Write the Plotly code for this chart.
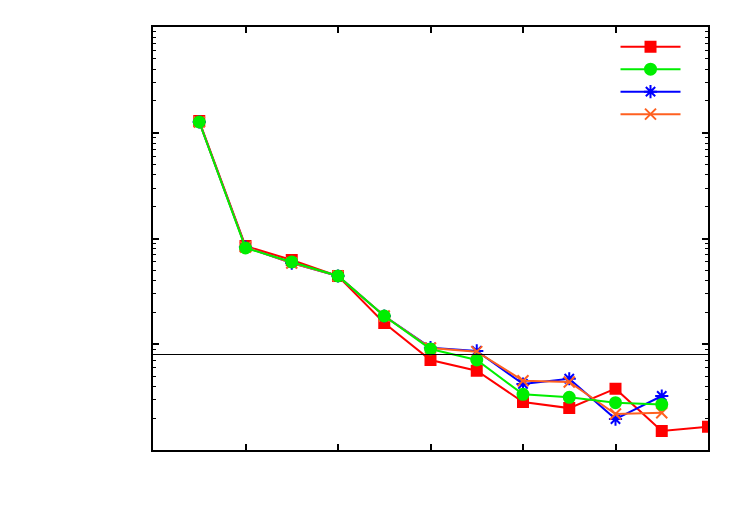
import plotly.graph_objects as go

x_long = [0.5, 1.0, 1.5, 2.0, 2.5, 3.0, 3.5, 4.0, 4.5, 5.0, 5.5, 6.0]
x_short = [0.5, 1.0, 1.5, 2.0, 2.5, 3.0, 3.5, 4.0, 4.5, 5.0, 5.5]

red_vals = [0.129, 0.00849, 0.00626, 0.00442, 0.00159, 0.00071, 0.000562,
            0.000284, 0.000249, 0.00038, 0.000151, 0.000166]
green_vals = [0.1264, 0.00813, 0.0060, 0.00442, 0.00185, 0.000902, 0.00071,
              0.000336, 0.000315, 0.00028, 0.00027]
blue_vals = [0.1264, 0.00831, 0.00586, 0.00442, 0.00185, 0.000929, 0.000864,
             0.000421, 0.000472, 0.000196, 0.000324]
orange_vals = [0.1264, 0.00831, 0.00586, 0.00442, 0.00185, 0.000922, 0.000851,
               0.000452, 0.00044, 0.000219, 0.000225]

ref_level = 0.0008

series = [
    dict(x=x_long, y=red_vals, color="#ff0000", symbol="square", size=10, rank=1),
    dict(x=x_short, y=blue_vals, color="#0000ff", symbol="asterisk-open", size=11, rank=3),
    dict(x=x_short, y=orange_vals, color="#ff6020", symbol="x-thin-open", size=11, rank=4),
    dict(x=x_short, y=green_vals, color="#00ee00", symbol="circle", size=11, rank=2),
]

fig = go.Figure()
for s in series:
    fig.add_trace(go.Scatter(
        x=s["x"], y=s["y"], mode="lines+markers", name=" ",
        line=dict(color=s["color"], width=2),
        marker=dict(symbol=s["symbol"], size=s["size"], color=s["color"],
                    line=dict(color=s["color"], width=2)),
        legendrank=s["rank"],
    ))

fig.add_shape(type="line", xref="paper", x0=0, x1=1, yref="y", y0=ref_level, y1=ref_level,
              line=dict(color="black", width=1))

fig.update_layout(
    width=750, height=525,
    margin=dict(l=153, r=42, t=27, b=75),
    paper_bgcolor="white", plot_bgcolor="white",
    showlegend=True,
    legend=dict(x=0.9775, y=0.992, xanchor="right", yanchor="top",
                bgcolor="rgba(0,0,0,0)", itemwidth=60,
                font=dict(size=15, family="Liberation Sans"), tracegroupgap=0),
    xaxis=dict(range=[0, 6], dtick=1, tick0=0, ticks="inside", ticklen=6, tickwidth=2,
               tickcolor="black", showline=True, linecolor="black", linewidth=2,
               mirror="ticks", showgrid=False, zeroline=False, showticklabels=False),
    yaxis=dict(type="log", range=[-4, 0], dtick=1, ticks="inside", ticklen=6, tickwidth=2,
               tickcolor="black", showline=True, linecolor="black", linewidth=2,
               mirror="ticks", showgrid=False, zeroline=False, showticklabels=False,
               minor=dict(ticks="inside", ticklen=3, tickwidth=1, tickcolor="black",
                          dtick="D1", showgrid=False)),
)

fig.write_html("out.html")
